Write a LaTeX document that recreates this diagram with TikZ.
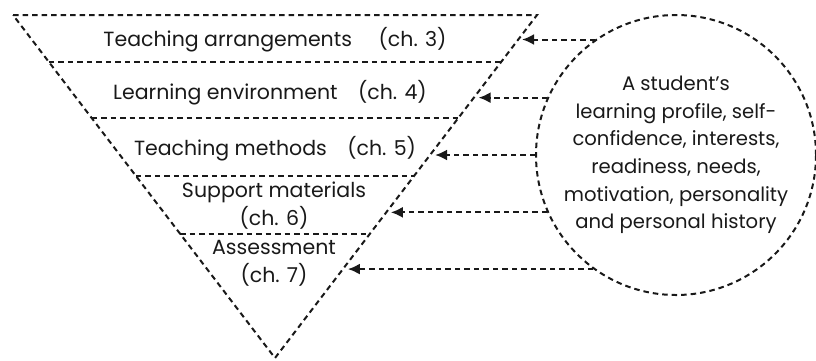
\documentclass[tikz,border=0pt]{standalone}
\usepackage{fontspec}
\setmainfont{Poppins}
\usepackage{tikz}
\usetikzlibrary{arrows.meta,positioning,calc}

\begin{document}
\begin{tikzpicture}[x=1pt, y=-1pt,
    band/.style={align=center, inner sep=0pt, text=black!90,
        font=\fontsize{20.5}{28}\selectfont},
    prof/.style={circle, draw=black!90, line width=2pt, dash pattern=on 5.5pt off 4pt,
        minimum size=280pt, inner sep=0pt, align=center, text=black!90,
        font=\fontsize{19.6}{27.6}\selectfont},
    dsh/.style={draw=black!90, line width=2pt, dash pattern=on 5.5pt off 4pt},
    line/.style={dsh, -{Latex[length=12pt,width=11pt]}}
]
    \useasboundingbox (0,0) rectangle (816,360);

    % inverted triangle and its bands
    \coordinate (tl) at (13,15);
    \coordinate (tr) at (537,15);
    \coordinate (apex) at (275,358);
    \path[dsh] (tl) -- (tr) -- (apex) -- cycle;
    \foreach \f in {0.137,0.300,0.469,0.638}
        \path[dsh] ($(tl)!\f!(apex)$) -- ($(tr)!\f!(apex)$);

    \node[band] (arrange) at (275,40) {Teaching arrangements\hspace{1.3em}(ch. 3)};
    \node[band] (environ) at (270,93) {Learning environment\hspace{1em}(ch. 4)};
    \node[band] (methods) at (275,149) {Teaching methods\hspace{1em}(ch. 5)};
    \node[band] (support) at (274,206) {Support materials\\(ch. 6)};
    \node[band] (assess) at (274,263) {Assessment\\(ch. 7)};

    % the student
    \node[prof] (profile) at (676,155) {A student's\\learning profile, self-\\confidence, interests,\\
        readiness, needs,\\motivation, personality\\and personal history};

    \foreach \ang/\f in {125.5/0.076, 156/0.242, 180/0.408, 204.5/0.577, 234.5/0.741} {
        \coordinate (hit) at ($(tr)!\f!(apex)+(5,0)$);
        \path[line] (profile.\ang) -- (profile.\ang -| hit);
    }
\end{tikzpicture}
\end{document}
